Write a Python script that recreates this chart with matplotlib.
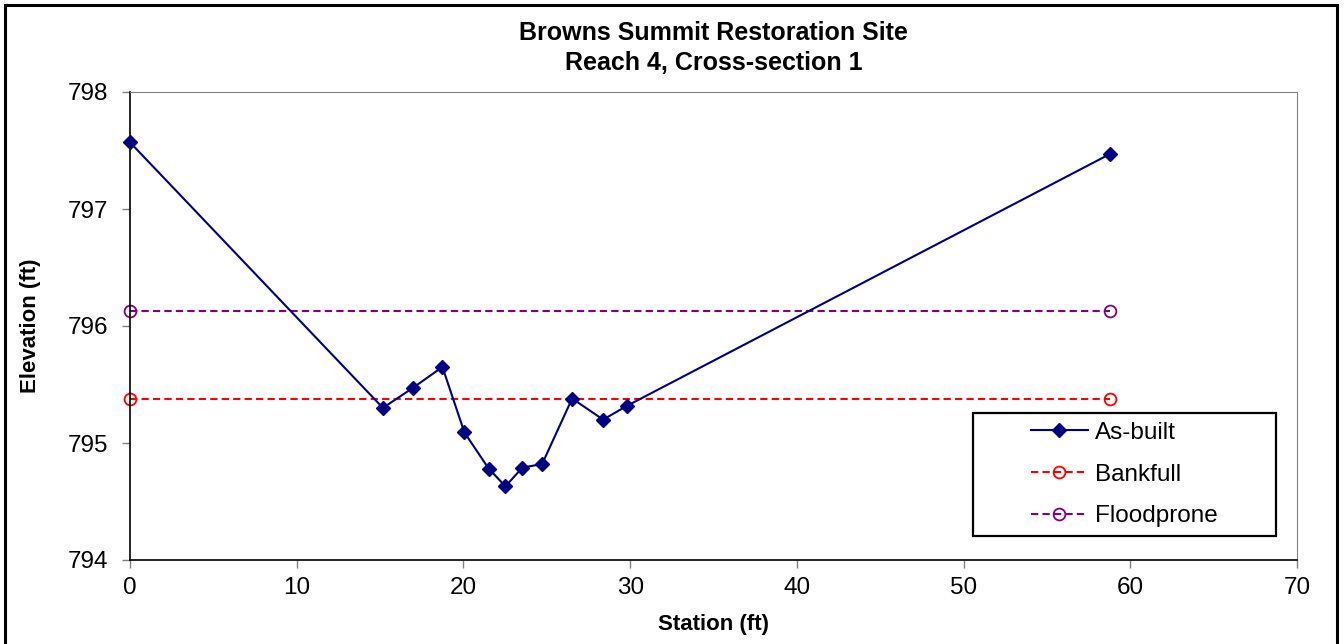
import matplotlib
matplotlib.use("Agg")
import matplotlib.pyplot as plt
from matplotlib.patches import Rectangle

plt.rcParams['font.family'] = ['Liberation Sans', 'DejaVu Sans']

# As-built survey
station = [0, 15.17, 16.96, 18.74, 20.06, 21.52, 22.52, 23.54, 24.72, 26.52, 28.38, 29.84, 58.78]
elev = [797.57, 795.30, 795.47, 795.65, 795.09, 794.78, 794.63, 794.79, 794.82, 795.38, 795.20, 795.32, 797.47]

# bankfull / floodprone lines (end points)
line_x = [0, 58.78]
bankfull = [795.38, 795.38]
floodprone = [796.13, 796.13]

W, H = 1344, 644
fig = plt.figure(figsize=(W/100, H/100), dpi=100)
ax = fig.add_axes([130/W, 1-560/H, (1297-130)/W, (560-92)/H])

ax.plot(station, elev, color='#000080', lw=1.5, marker='D', ms=7, label='As-built', clip_on=False, zorder=4)
ax.plot(line_x, bankfull, color='red', lw=1.5, ls=(0, (3.5, 2)), marker='o', ms=8.5,
        mfc='none', mec='red', mew=1.3, label='Bankfull', clip_on=False)
ax.plot(line_x, floodprone, color='#800080', lw=1.5, ls=(0, (3.5, 2)), marker='o', ms=8.5,
        mfc='none', mec='#800080', mew=1.3, label='Floodprone', clip_on=False)

ax.set_xlim(0, 70)
ax.set_ylim(794, 798)
ax.set_xticks(range(0, 71, 10))
ax.set_yticks([794, 795, 796, 797, 798])
ax.tick_params(labelsize=17.5, color='#808080', length=6, width=1)
ax.tick_params(axis='y', pad=10)
ax.tick_params(axis='x', pad=6)
for s in ['top', 'right']:
    ax.spines[s].set_color('#808080')
for s in ['left', 'bottom']:
    ax.spines[s].set_color('black')
    ax.spines[s].set_linewidth(1.2)

ax.set_xlabel('Station (ft)', fontsize=16, fontweight='bold', labelpad=11)
ax.set_ylabel('Elevation (ft)', fontsize=16, fontweight='bold', labelpad=19)
ax.set_title('Browns Summit Restoration Site\nReach 4, Cross-section 1',
             fontsize=18, fontweight='bold', pad=16, linespacing=1.3)

# legend box drawn separately so the entries sit centred inside it
bx0, bx1, by0, by1 = 973, 1276, 413, 536
ax.add_patch(Rectangle(((bx0-130)/1167, (560-by1)/468), (bx1-bx0)/1167, (by1-by0)/468,
                       transform=ax.transAxes, fill=True, facecolor='white',
                       edgecolor='black', lw=1.6, zorder=5))
leg = ax.legend(loc='center', bbox_to_anchor=(((bx0+bx1)/2-130)/1167, (560-(by0+by1)/2)/468),
                fontsize=17.5, frameon=False, borderpad=0, labelspacing=0.82,
                handlelength=2.35, handletextpad=0.3)
leg.set_zorder(6)

# outer chart border (bottom edge falls outside the picture)
fig.patches.append(Rectangle((5/W, -10/H), (W-5-2.5-5)/W, (H+10-5)/H, transform=fig.transFigure,
                             fill=False, edgecolor='black', lw=2.2))

fig.savefig('out.png', dpi=100)
